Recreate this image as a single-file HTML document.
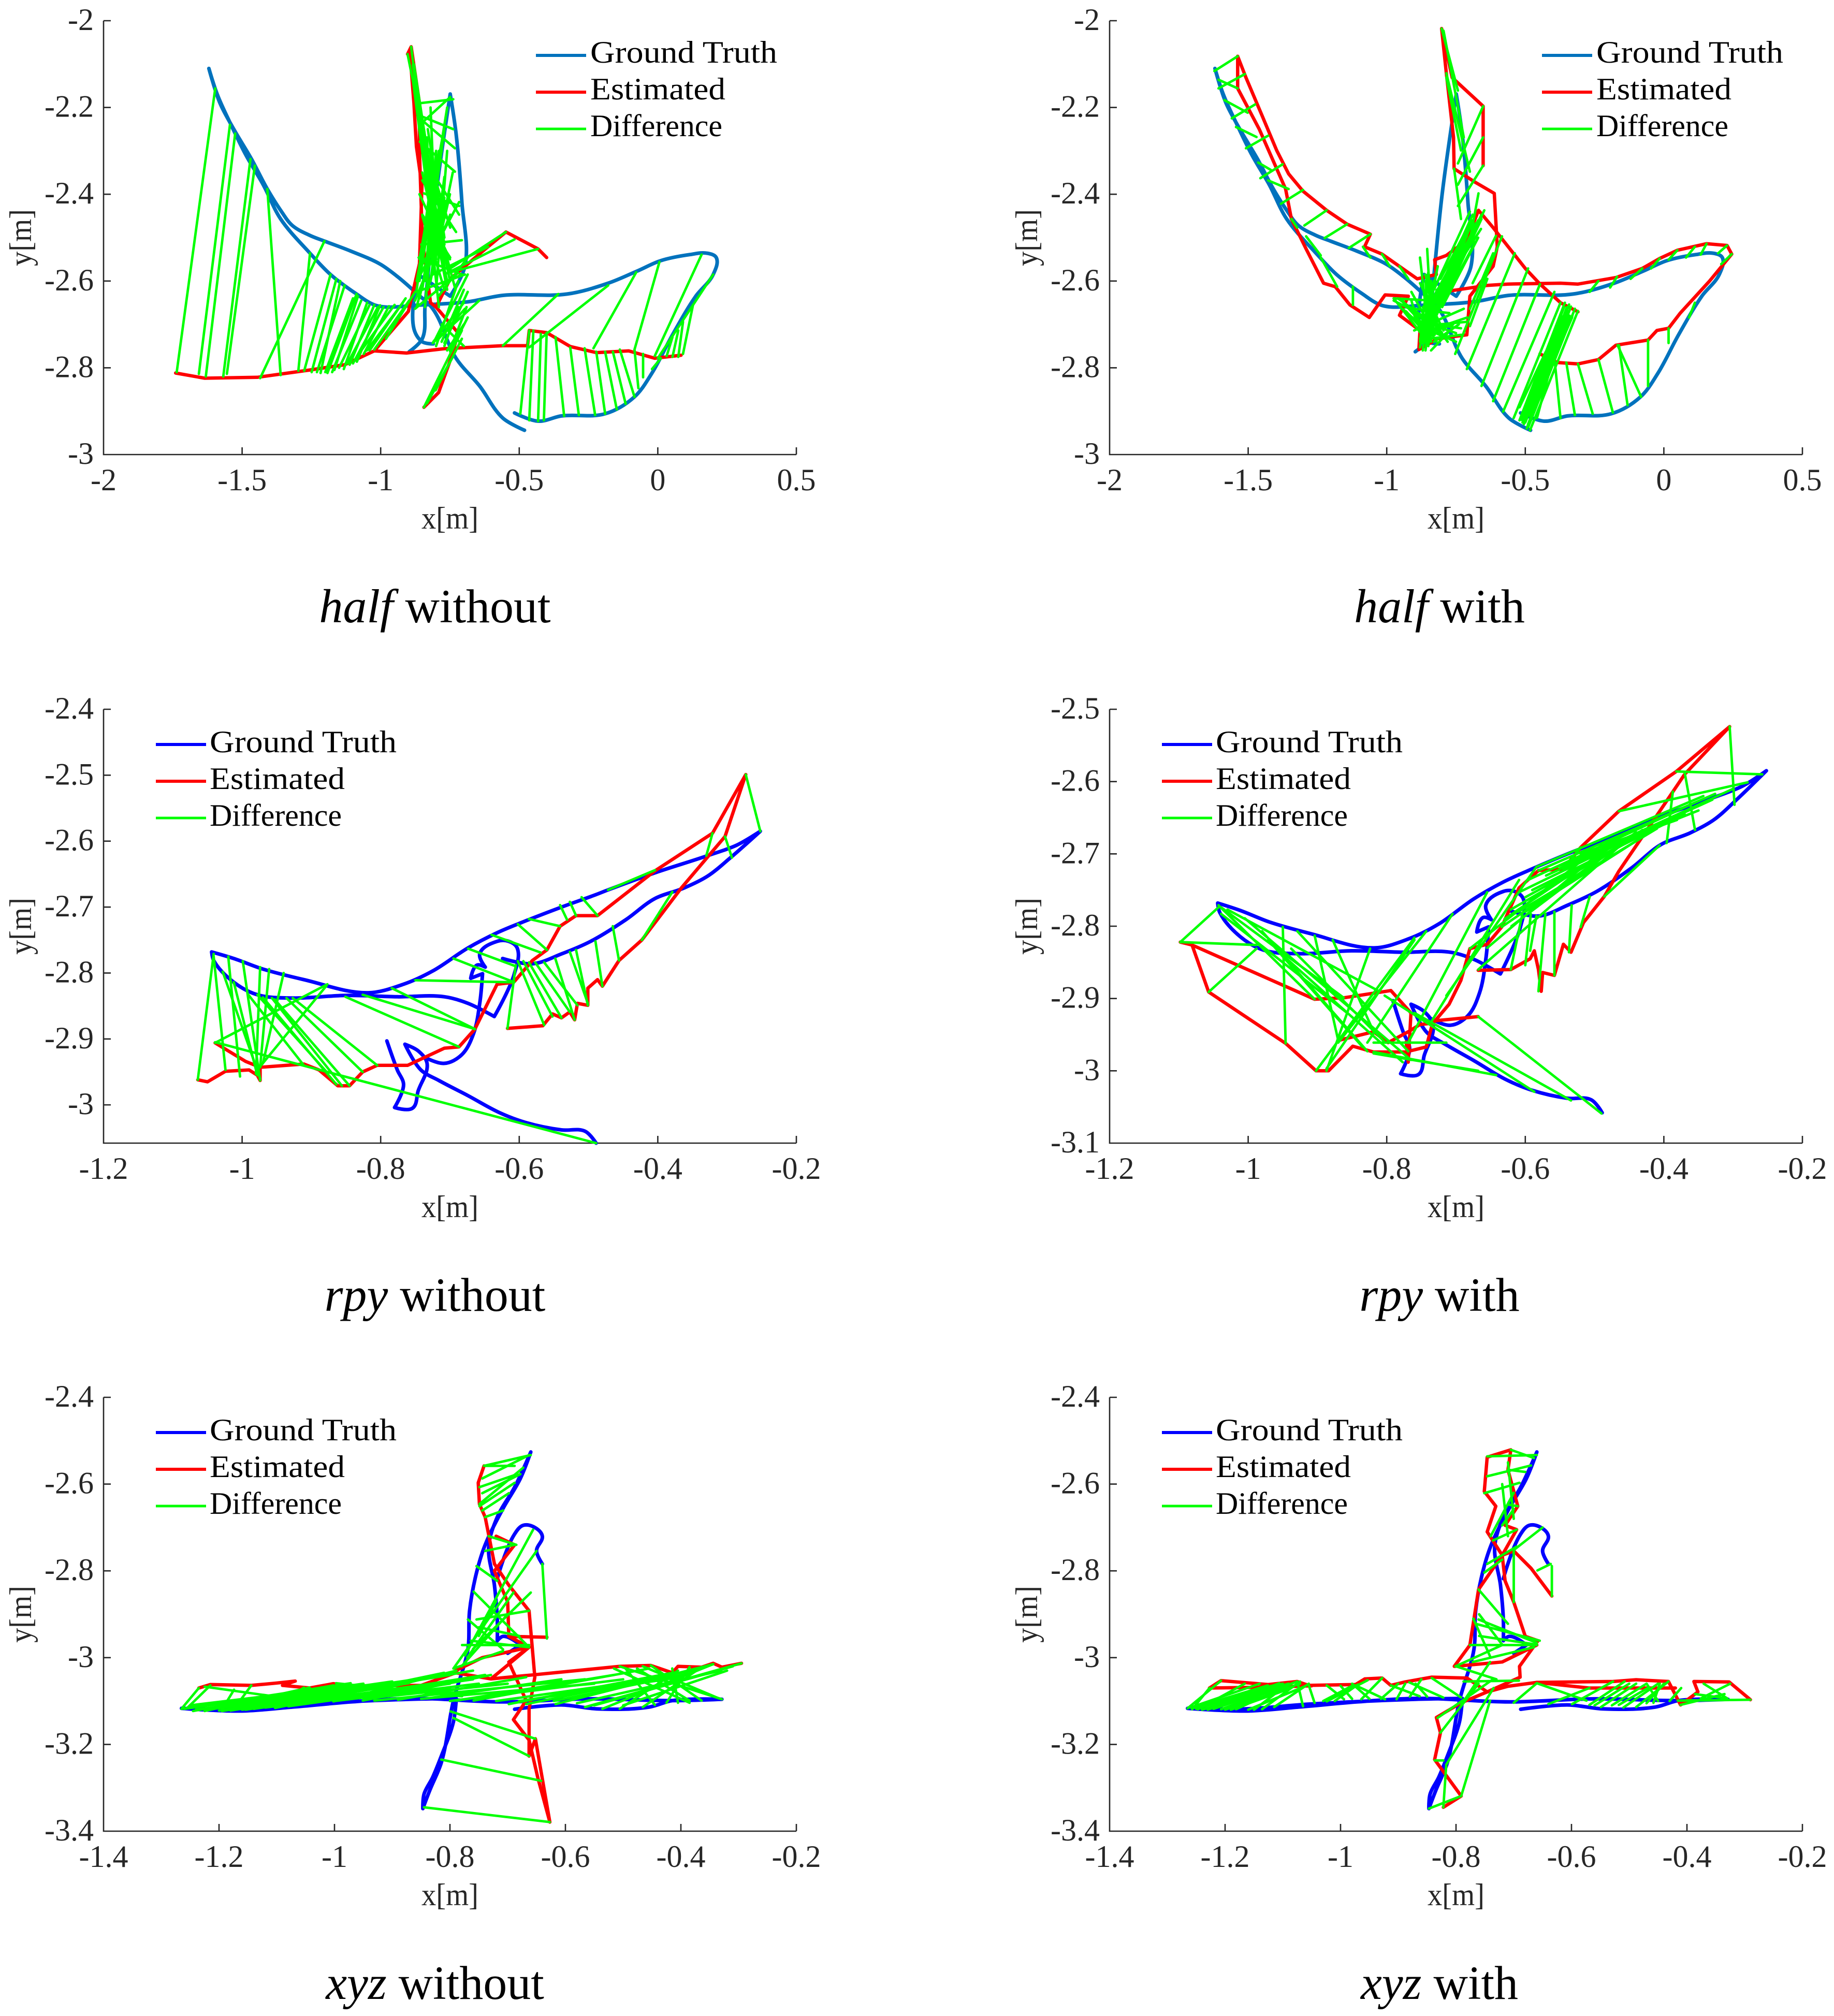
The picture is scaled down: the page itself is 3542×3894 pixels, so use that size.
<!DOCTYPE html>
<html lang="en">
<head>
<meta charset="utf-8">
<title>Trajectory comparison</title>
<style>
html,body{margin:0;padding:0;background:#fff;}
svg{display:block;}
text{font-family:"Liberation Serif","DejaVu Serif",serif;}
.tick{font-size:60px;fill:#262626;}
.axlabel{font-size:60px;fill:#262626;}
.leg{font-size:60px;fill:#000;}
.title{font-size:92px;fill:#000;text-anchor:middle;}
</style>
</head>
<body>
<svg id="figure" xmlns="http://www.w3.org/2000/svg" width="3542" height="3894" viewBox="0 0 3542 3894">
<rect x="0" y="0" width="3542" height="3894" fill="#fff"/>

<g id="p1" transform="translate(200,40)">
 <g>
  <line x1="835" x2="932" y1="67" y2="67" stroke="#0072BD" stroke-width="6"/>
  <line x1="835" x2="932" y1="138" y2="138" stroke="#FF0000" stroke-width="6"/>
  <line x1="835" x2="932" y1="209" y2="209" stroke="#00FF00" stroke-width="5"/>
  <text class="leg" x="940" y="81" textLength="361" lengthAdjust="spacingAndGlyphs">Ground Truth</text>
  <text class="leg" x="940" y="152" textLength="261" lengthAdjust="spacingAndGlyphs">Estimated</text>
  <text class="leg" x="940" y="223" textLength="255" lengthAdjust="spacingAndGlyphs">Difference</text>
 </g>
 <text class="axlabel" x="669" y="981" text-anchor="middle" textLength="110" lengthAdjust="spacingAndGlyphs">x[m]</text>
 <text class="axlabel" transform="translate(-140,419) rotate(-90)" text-anchor="middle" textLength="110" lengthAdjust="spacingAndGlyphs">y[m]</text>
 <text class="title" x="640" y="1162"><tspan font-style="italic">half</tspan> without</text>
</g>

<g id="p2" transform="translate(2143,40)">
 <g>
  <line x1="835" x2="932" y1="67" y2="67" stroke="#0072BD" stroke-width="6"/>
  <line x1="835" x2="932" y1="138" y2="138" stroke="#FF0000" stroke-width="6"/>
  <line x1="835" x2="932" y1="209" y2="209" stroke="#00FF00" stroke-width="5"/>
  <text class="leg" x="940" y="81" textLength="361" lengthAdjust="spacingAndGlyphs">Ground Truth</text>
  <text class="leg" x="940" y="152" textLength="261" lengthAdjust="spacingAndGlyphs">Estimated</text>
  <text class="leg" x="940" y="223" textLength="255" lengthAdjust="spacingAndGlyphs">Difference</text>
 </g>
 <text class="axlabel" x="669" y="981" text-anchor="middle" textLength="110" lengthAdjust="spacingAndGlyphs">x[m]</text>
 <text class="axlabel" transform="translate(-140,419) rotate(-90)" text-anchor="middle" textLength="110" lengthAdjust="spacingAndGlyphs">y[m]</text>
 <text class="title" x="637" y="1162"><tspan font-style="italic">half</tspan> with</text>
</g>

<g id="p3" transform="translate(200,1370)">
 <g>
  <line x1="101" x2="198" y1="68" y2="68" stroke="#0000FF" stroke-width="6"/>
  <line x1="101" x2="198" y1="139" y2="139" stroke="#FF0000" stroke-width="6"/>
  <line x1="101" x2="198" y1="210" y2="210" stroke="#00FF00" stroke-width="5"/>
  <text class="leg" x="205" y="83" textLength="361" lengthAdjust="spacingAndGlyphs">Ground Truth</text>
  <text class="leg" x="205" y="154" textLength="261" lengthAdjust="spacingAndGlyphs">Estimated</text>
  <text class="leg" x="205" y="225" textLength="255" lengthAdjust="spacingAndGlyphs">Difference</text>
 </g>
 <text class="axlabel" x="669" y="981" text-anchor="middle" textLength="110" lengthAdjust="spacingAndGlyphs">x[m]</text>
 <text class="axlabel" transform="translate(-140,419) rotate(-90)" text-anchor="middle" textLength="110" lengthAdjust="spacingAndGlyphs">y[m]</text>
 <text class="title" x="640" y="1162"><tspan font-style="italic">rpy</tspan> without</text>
</g>

<g id="p4" transform="translate(2143,1370)">
 <g>
  <line x1="101" x2="198" y1="68" y2="68" stroke="#0000FF" stroke-width="6"/>
  <line x1="101" x2="198" y1="139" y2="139" stroke="#FF0000" stroke-width="6"/>
  <line x1="101" x2="198" y1="210" y2="210" stroke="#00FF00" stroke-width="5"/>
  <text class="leg" x="205" y="83" textLength="361" lengthAdjust="spacingAndGlyphs">Ground Truth</text>
  <text class="leg" x="205" y="154" textLength="261" lengthAdjust="spacingAndGlyphs">Estimated</text>
  <text class="leg" x="205" y="225" textLength="255" lengthAdjust="spacingAndGlyphs">Difference</text>
 </g>
 <text class="axlabel" x="669" y="981" text-anchor="middle" textLength="110" lengthAdjust="spacingAndGlyphs">x[m]</text>
 <text class="axlabel" transform="translate(-140,419) rotate(-90)" text-anchor="middle" textLength="110" lengthAdjust="spacingAndGlyphs">y[m]</text>
 <text class="title" x="637" y="1162"><tspan font-style="italic">rpy</tspan> with</text>
</g>

<g id="p5" transform="translate(200,2699)">
 <g>
  <line x1="101" x2="198" y1="68" y2="68" stroke="#0000FF" stroke-width="6"/>
  <line x1="101" x2="198" y1="139" y2="139" stroke="#FF0000" stroke-width="6"/>
  <line x1="101" x2="198" y1="210" y2="210" stroke="#00FF00" stroke-width="5"/>
  <text class="leg" x="205" y="83" textLength="361" lengthAdjust="spacingAndGlyphs">Ground Truth</text>
  <text class="leg" x="205" y="154" textLength="261" lengthAdjust="spacingAndGlyphs">Estimated</text>
  <text class="leg" x="205" y="225" textLength="255" lengthAdjust="spacingAndGlyphs">Difference</text>
 </g>
 <text class="axlabel" x="669" y="981" text-anchor="middle" textLength="110" lengthAdjust="spacingAndGlyphs">x[m]</text>
 <text class="axlabel" transform="translate(-140,419) rotate(-90)" text-anchor="middle" textLength="110" lengthAdjust="spacingAndGlyphs">y[m]</text>
 <text class="title" x="640" y="1162"><tspan font-style="italic">xyz</tspan> without</text>
</g>

<g id="p6" transform="translate(2143,2699)">
 <g>
  <line x1="101" x2="198" y1="68" y2="68" stroke="#0000FF" stroke-width="6"/>
  <line x1="101" x2="198" y1="139" y2="139" stroke="#FF0000" stroke-width="6"/>
  <line x1="101" x2="198" y1="210" y2="210" stroke="#00FF00" stroke-width="5"/>
  <text class="leg" x="205" y="83" textLength="361" lengthAdjust="spacingAndGlyphs">Ground Truth</text>
  <text class="leg" x="205" y="154" textLength="261" lengthAdjust="spacingAndGlyphs">Estimated</text>
  <text class="leg" x="205" y="225" textLength="255" lengthAdjust="spacingAndGlyphs">Difference</text>
 </g>
 <text class="axlabel" x="669" y="981" text-anchor="middle" textLength="110" lengthAdjust="spacingAndGlyphs">x[m]</text>
 <text class="axlabel" transform="translate(-140,419) rotate(-90)" text-anchor="middle" textLength="110" lengthAdjust="spacingAndGlyphs">y[m]</text>
 <text class="title" x="637" y="1162"><tspan font-style="italic">xyz</tspan> with</text>
</g>
</svg>

<script>
// Tick values
const halfXTicks = [-2,-1.5,-1,-0.5,0,0.5];
const halfYTicks = [-2,-2.2,-2.4,-2.6,-2.8,-3];
const rpyXTicks = [-1.2,-1,-0.8,-0.6,-0.4,-0.2];
const rpyWithoutYTicks = [-2.4,-2.5,-2.6,-2.7,-2.8,-2.9,-3];
const rpyWithYTicks = [-2.5,-2.6,-2.7,-2.8,-2.9,-3,-3.1];
const xyzXTicks = [-1.4,-1.2,-1,-0.8,-0.6,-0.4,-0.2];
const xyzYTicks = [-2.4,-2.6,-2.8,-3,-3.2,-3.4];

// Axis limits
const halfXLim = [-2,0.5];
const halfYLim = [-3,-2];
const rpyXLim = [-1.2,-0.2];
const rpyWithoutYLim = [-3.058,-2.4];
const rpyWithYLim = [-3.1,-2.5];
const xyzXLim = [-1.4,-0.2];
const xyzYLim = [-3.4,-2.4];

// Ground truth paths: each inner array is x,y,x,y...
const halfGt = [
[-0.517,-2.904,-0.432,-2.923,-0.348,-2.911,-0.19,-2.906,-0.084,-2.867,-0.021,-2.812,0.053,-2.724,0.137,-2.635,0.2,-2.585,0.211,-2.546,0.179,-2.536,0.116,-2.539,0.011,-2.553,-0.074,-2.577,-0.179,-2.605,-0.327,-2.63,-0.559,-2.633,-0.686,-2.648,-0.876,-2.656,-0.981,-2.66,-1.023,-2.655,-1.087,-2.63,-1.181,-2.585,-1.255,-2.536,-1.361,-2.457,-1.424,-2.378,-1.487,-2.309,-1.54,-2.24,-1.589,-2.171,-1.62,-2.11,-1.58,-2.19,-1.53,-2.25,-1.466,-2.319,-1.409,-2.388,-1.361,-2.437,-1.319,-2.472,-1.255,-2.495,-1.203,-2.508,-1.108,-2.531,-1.002,-2.561,-0.939,-2.59,-0.876,-2.625,-0.812,-2.664,-0.728,-2.778,-0.643,-2.842,-0.559,-2.916,-0.481,-2.944],
[-0.897,-2.763,-0.85,-2.733,-0.84,-2.66,-0.8,-2.4,-0.749,-2.169,-0.728,-2.26,-0.707,-2.418,-0.696,-2.566,-0.749,-2.635,-0.865,-2.585,-0.88,-2.71,-0.85,-2.74,-0.81,-2.745]
];
const rpyGt = [
[-0.489,-3.058,-0.505,-3.04,-0.539,-3.038,-0.59,-3.027,-0.628,-3.012,-0.674,-2.986,-0.716,-2.963,-0.742,-2.947,-0.765,-2.908,-0.746,-2.918,-0.733,-2.937,-0.746,-2.979,-0.754,-3.005,-0.78,-3.004,-0.767,-2.969,-0.776,-2.947,-0.791,-2.903],
[-0.738,-2.927,-0.708,-2.937,-0.683,-2.924,-0.666,-2.892,-0.657,-2.846,-0.653,-2.801,-0.67,-2.808,-0.661,-2.788,-0.649,-2.791,-0.657,-2.771,-0.632,-2.752,-0.615,-2.752,-0.603,-2.762,-0.607,-2.801,-0.636,-2.866,-0.674,-2.846,-0.708,-2.836,-0.776,-2.836,-0.851,-2.834,-0.927,-2.838,-0.978,-2.833,-1.012,-2.814,-1.041,-2.781,-1.044,-2.768,-1.012,-2.778,-0.97,-2.794,-0.911,-2.81,-0.818,-2.83,-0.767,-2.817,-0.725,-2.797,-0.674,-2.762,-0.632,-2.739,-0.598,-2.724,-0.539,-2.7,-0.489,-2.681,-0.472,-2.674,-0.404,-2.648,-0.328,-2.622,-0.286,-2.606,-0.252,-2.585,-0.295,-2.625,-0.328,-2.653,-0.362,-2.671,-0.404,-2.687,-0.446,-2.719,-0.497,-2.752,-0.539,-2.771,-0.581,-2.786,-0.624,-2.778]
];
const xyzGt = [
[-0.688,-3.119,-0.607,-3.109,-0.546,-3.118,-0.455,-3.114,-0.415,-3.099,-0.329,-3.096,-0.415,-3.099,-0.56,-3.095,-0.708,-3.102,-0.87,-3.094,-0.972,-3.102,-1.073,-3.114,-1.164,-3.123,-1.265,-3.117,-1.164,-3.118,-1.053,-3.107,-0.87,-3.096,-0.789,-3.094,-0.794,-3.148,-0.815,-3.227,-0.83,-3.276,-0.845,-3.315,-0.847,-3.348,-0.835,-3.306,-0.815,-3.242,-0.794,-3.099,-0.769,-2.981,-0.766,-2.892,-0.754,-2.804,-0.739,-2.74,-0.708,-2.656,-0.678,-2.587,-0.66,-2.526,-0.688,-2.607,-0.718,-2.676,-0.733,-2.745,-0.723,-2.833,-0.718,-2.912,-0.718,-2.961,-0.708,-2.951,-0.678,-2.971,-0.7,-2.99],
[-0.718,-2.818,-0.688,-2.715,-0.673,-2.695,-0.653,-2.7,-0.64,-2.72,-0.65,-2.754,-0.64,-2.784]
];

// Estimated paths
const halfEstWithout = [
[-0.401,-2.546,-0.432,-2.526,-0.548,-2.487,-0.622,-2.526,-0.749,-2.595,-0.8,-2.66,-0.72,-2.72,-0.749,-2.783,-0.791,-2.857,-0.844,-2.891],
[0.084,-2.771,-0.011,-2.778,-0.105,-2.761,-0.222,-2.765,-0.316,-2.751,-0.401,-2.719,-0.464,-2.714,-0.47,-2.749,-0.559,-2.749,-0.77,-2.756,-0.907,-2.766,-1.023,-2.761,-1.13,-2.793,-1.255,-2.805,-1.445,-2.822,-1.635,-2.824,-1.74,-2.812],
[-1.023,-2.761,-0.9,-2.67,-0.86,-2.56,-0.851,-2.38,-0.871,-2.29,-0.88,-2.19,-0.895,-2.07,-0.903,-2.077,-0.89,-2.06,-0.86,-2.19,-0.86,-2.3,-0.85,-2.5,-0.82,-2.65,-0.8,-2.66]
];
const halfEstWith = [
[-1.538,-2.082,-1.508,-2.131,-1.449,-2.22,-1.397,-2.299,-1.354,-2.353,-1.302,-2.393,-1.217,-2.437,-1.143,-2.469,-1.059,-2.492,-1.08,-2.521,-1.017,-2.538,-0.89,-2.595,-0.821,-2.585,-0.827,-2.551,-0.785,-2.541,-0.711,-2.506,-0.669,-2.437,-0.616,-2.477,-0.5,-2.571,-0.447,-2.607,-0.373,-2.65,-0.31,-2.671],
[-1.538,-2.082,-1.538,-2.156,-1.46,-2.25,-1.365,-2.388,-1.344,-2.457,-1.291,-2.526,-1.228,-2.605,-1.186,-2.613,-1.133,-2.655,-1.063,-2.684,-1.006,-2.632,-0.922,-2.635,-0.954,-2.679,-0.88,-2.714,-0.884,-2.758,-0.816,-2.733,-0.711,-2.724,-0.7,-2.635,-0.616,-2.566,-0.601,-2.521,-0.612,-2.398,-0.679,-2.373,-0.757,-2.341,-0.759,-2.269,-0.785,-2.121,-0.802,-2.018,-0.764,-2.131,-0.652,-2.197,-0.652,-2.334],
[-0.795,-2.625,-0.637,-2.61,-0.563,-2.607,-0.373,-2.605,-0.31,-2.607,-0.173,-2.592,-0.078,-2.571,-0.015,-2.548,0.049,-2.529,0.154,-2.514,0.228,-2.518,0.245,-2.538,0.165,-2.6,0.059,-2.674,0.017,-2.709,-0.025,-2.714,-0.057,-2.736,-0.173,-2.748,-0.236,-2.781,-0.31,-2.791,-0.384,-2.788,-0.447,-2.768]
];
const rpyEstWithout = [
[-1.039,-2.906,-0.995,-2.934,-0.974,-2.943,-0.911,-2.938,-0.889,-2.947,-0.862,-2.971,-0.845,-2.971,-0.826,-2.95,-0.805,-2.94,-0.761,-2.94,-0.708,-2.914,-0.687,-2.912,-0.664,-2.885,-0.632,-2.817,-0.608,-2.814,-0.581,-2.781,-0.56,-2.765,-0.541,-2.729,-0.518,-2.713,-0.487,-2.713,-0.404,-2.645,-0.321,-2.588,-0.273,-2.499,-0.303,-2.593,-0.366,-2.671,-0.423,-2.75,-0.456,-2.781,-0.48,-2.82,-0.487,-2.81,-0.501,-2.823,-0.501,-2.849,-0.516,-2.846,-0.52,-2.871,-0.527,-2.859,-0.539,-2.868,-0.552,-2.862,-0.566,-2.88,-0.617,-2.884],
[-1.064,-2.962,-1.05,-2.965,-1.024,-2.949,-0.99,-2.947,-0.978,-2.955,-0.974,-2.963,-0.974,-2.943]
];
const rpyEstWith = [
[-1.098,-2.822,-1.081,-2.826,-1.057,-2.891,-0.946,-2.962,-0.902,-3,-0.884,-3,-0.849,-2.966,-0.819,-2.974,-0.773,-2.974,-0.743,-2.967,-0.733,-2.931,-0.668,-2.925],
[-1.081,-2.826,-0.904,-2.901,-0.862,-2.899,-0.794,-2.889,-0.765,-2.92,-0.769,-2.988,-0.772,-2.96],
[-0.87,-2.958,-0.819,-2.946,-0.798,-2.961,-0.769,-2.946,-0.752,-2.936,-0.733,-2.934,-0.71,-2.908,-0.693,-2.875,-0.68,-2.831,-0.655,-2.825,-0.634,-2.801,-0.609,-2.747,-0.581,-2.723,-0.545,-2.721,-0.52,-2.691,-0.465,-2.641,-0.382,-2.586,-0.305,-2.524,-0.37,-2.59,-0.406,-2.641,-0.465,-2.724,-0.486,-2.759,-0.516,-2.795,-0.534,-2.836,-0.545,-2.825,-0.558,-2.868,-0.575,-2.864,-0.577,-2.89,-0.581,-2.86,-0.587,-2.834,-0.593,-2.845,-0.621,-2.86,-0.668,-2.861]
];
const xyzEstWithout = [
[-1.235,-3.07,-1.215,-3.062,-1.144,-3.064,-1.103,-3.059,-1.068,-3.054,-1.09,-3.064,-1.043,-3.07,-1.002,-3.06,-0.97,-3.065,-0.85,-3.064,-0.79,-3.035,-0.729,-3.049,-0.658,-3.04,-0.506,-3.02,-0.452,-3.018,-0.415,-3.035,-0.405,-3.02,-0.364,-3.022,-0.344,-3.013,-0.329,-3.022,-0.295,-3.013],
[-0.627,-3.379,-0.652,-3.187,-0.663,-3.227,-0.663,-3.119,-0.653,-3.045,-0.663,-2.892,-0.698,-2.833,-0.723,-2.784,-0.739,-2.676,-0.749,-2.646,-0.751,-2.597,-0.741,-2.558],
[-0.627,-3.379,-0.648,-3.276,-0.663,-3.19,-0.69,-3.143,-0.668,-3.099,-0.698,-3.01,-0.663,-2.976,-0.698,-2.951,-0.632,-2.953,-0.698,-2.951,-0.7,-2.872,-0.723,-2.8,-0.688,-2.74,-0.72,-2.72],
[-0.729,-3.049,-0.698,-3.015,-0.663,-2.976,-0.744,-3.0,-0.79,-3.03]
];
const xyzEstWith = [
[-1.227,-3.07,-1.207,-3.053,-1.126,-3.062,-1.075,-3.055,-1.055,-3.064,-0.974,-3.062,-0.958,-3.049,-0.928,-3.047,-0.913,-3.064,-0.888,-3.056,-0.842,-3.045,-0.781,-3.047,-0.746,-3.079,-0.71,-3.066,-0.66,-3.057,-0.528,-3.055,-0.488,-3.051,-0.432,-3.055,-0.411,-3.109,-0.381,-3.079,-0.388,-3.055,-0.327,-3.056,-0.29,-3.097],
[-1.227,-3.07,-1.126,-3.068,-1.05,-3.065],
[-0.66,-3.057,-0.57,-3.07,-0.48,-3.07,-0.42,-3.07],
[-0.822,-3.345,-0.791,-3.319,-0.837,-3.235,-0.827,-3.173,-0.834,-3.138,-0.791,-3.104,-0.746,-3.079,-0.689,-3.045,-0.69,-3.02,-0.658,-2.961,-0.68,-2.951,-0.7,-2.872,-0.715,-2.823,-0.72,-2.764,-0.695,-2.705,-0.715,-2.695,-0.693,-2.651,-0.71,-2.567,-0.705,-2.521,-0.746,-2.538,-0.751,-2.617,-0.731,-2.651,-0.746,-2.71,-0.72,-2.764,-0.761,-2.843,-0.776,-2.971,-0.803,-3.02,-0.72,-3.01,-0.66,-2.971],
[-0.634,-2.858,-0.67,-2.794,-0.7,-2.754,-0.72,-2.764]
];

// Difference segments: ground-truth x,y then estimated x,y
const halfDiffWithout = [
[-1.597,-2.156,-1.736,-2.81],[-1.544,-2.24,-1.656,-2.814],[-1.525,-2.26,-1.631,-2.82],[-1.47,-2.319,-1.568,-2.82],[-1.454,-2.334,-1.555,-2.814],[-1.409,-2.388,-1.361,-2.817],[-1.203,-2.508,-1.435,-2.824],[-1.255,-2.536,-1.297,-2.807],[-1.181,-2.585,-1.276,-2.807],[-1.16,-2.595,-1.249,-2.81],[-1.146,-2.6,-1.217,-2.812],[-1.087,-2.63,-1.192,-2.812],[-1.082,-2.635,-1.167,-2.805],[-1.049,-2.65,-1.133,-2.803],[-1.023,-2.655,-1.112,-2.793],[-1.002,-2.656,-1.086,-2.786],[-0.97,-2.658,-1.061,-2.768],[-0.897,-2.645,-1.023,-2.758],[-0.876,-2.625,-0.981,-2.733],
[-1.13,-2.61,-1.23,-2.81],[-1.1,-2.64,-1.2,-2.81],[-1.07,-2.645,-1.175,-2.81],[-1.04,-2.655,-1.15,-2.8],[-1.01,-2.66,-1.12,-2.79],[-0.99,-2.66,-1.1,-2.79],[-0.95,-2.655,-1.07,-2.76],[-0.92,-2.65,-1.05,-2.76],[-0.91,-2.64,-1.04,-2.76],
[-0.359,-2.63,-0.559,-2.749],[-0.179,-2.61,-0.464,-2.753],[-0.078,-2.58,-0.232,-2.755],[0.006,-2.556,-0.084,-2.758],[0.158,-2.539,-0.011,-2.773],[0.2,-2.585,0,-2.778],
[-0.496,-2.906,-0.464,-2.714],[-0.464,-2.921,-0.449,-2.714],[-0.432,-2.923,-0.422,-2.722],[-0.411,-2.921,-0.401,-2.719],[-0.338,-2.911,-0.369,-2.729],[-0.285,-2.909,-0.316,-2.753],[-0.226,-2.909,-0.264,-2.755],[-0.19,-2.906,-0.222,-2.763],[-0.148,-2.896,-0.19,-2.763],[-0.116,-2.883,-0.162,-2.763],[-0.084,-2.867,-0.137,-2.758],[-0.07,-2.847,-0.084,-2.758],[-0.053,-2.822,-0.053,-2.768],[-0.021,-2.803,0.011,-2.778],[0.053,-2.729,0.032,-2.773],[0.074,-2.714,0.053,-2.775],[0.091,-2.694,0.074,-2.775],[0.127,-2.655,0.091,-2.768],
[-0.854,-2.25,-0.89,-2.06],[-0.833,-2.299,-0.903,-2.077],[-0.823,-2.348,-0.884,-2.102],[-0.802,-2.398,-0.88,-2.151],[-0.738,-2.181,-0.871,-2.191],[-0.749,-2.176,-0.859,-2.24],[-0.738,-2.25,-0.854,-2.22],[-0.732,-2.294,-0.85,-2.23],[-0.732,-2.348,-0.859,-2.279],[-0.717,-2.447,-0.844,-2.319],[-0.728,-2.487,-0.85,-2.368],[-0.717,-2.427,-0.844,-2.398],[-0.749,-2.546,-0.85,-2.447],[-0.707,-2.506,-0.854,-2.516],[-0.77,-2.566,-0.844,-2.25],[-0.812,-2.585,-0.833,-2.269],[-0.791,-2.546,-0.838,-2.329],[-0.77,-2.516,-0.823,-2.299],[-0.749,-2.477,-0.812,-2.348],[-0.707,-2.585,-0.863,-2.546],[-0.696,-2.585,-0.871,-2.625],[-0.728,-2.585,-0.876,-2.664],[-0.717,-2.418,-0.865,-2.595],[-0.749,-2.447,-0.876,-2.645],[-0.76,-2.467,-0.854,-2.566],[-0.77,-2.408,-0.833,-2.546],[-0.686,-2.585,-0.802,-2.733],[-0.686,-2.625,-0.77,-2.743],[-0.644,-2.645,-0.812,-2.743],[-0.686,-2.684,-0.749,-2.763],[-0.696,-2.664,-0.791,-2.733],[-0.707,-2.714,-0.844,-2.891],[-0.738,-2.773,-0.833,-2.882],[-0.707,-2.733,-0.802,-2.852],[-0.749,-2.571,-0.548,-2.487],[-0.77,-2.585,-0.517,-2.504],[-0.749,-2.58,-0.432,-2.526],[-0.812,-2.585,-0.612,-2.521],[-0.791,-2.635,-0.686,-2.546],[-0.77,-2.605,-0.707,-2.585],
[-0.76,-2.2,-0.86,-2.6],[-0.77,-2.25,-0.85,-2.62],[-0.78,-2.28,-0.87,-2.6],[-0.79,-2.3,-0.86,-2.55],[-0.8,-2.3,-0.84,-2.6],[-0.81,-2.33,-0.87,-2.62],[-0.82,-2.2,-0.8,-2.5],[-0.84,-2.3,-0.78,-2.55],[-0.85,-2.35,-0.76,-2.6],[-0.83,-2.25,-0.77,-2.5],[-0.86,-2.4,-0.75,-2.55],[-0.85,-2.45,-0.77,-2.62],[-0.84,-2.5,-0.78,-2.3],[-0.82,-2.6,-0.74,-2.35],[-0.8,-2.62,-0.76,-2.3],[-0.83,-2.62,-0.75,-2.4],[-0.86,-2.64,-0.78,-2.4],[-0.87,-2.66,-0.79,-2.45],[-0.84,-2.66,-0.8,-2.38],[-0.81,-2.56,-0.77,-2.42],[-0.88,-2.1,-0.82,-2.35],[-0.885,-2.13,-0.83,-2.4],[-0.87,-2.18,-0.81,-2.44],[-0.86,-2.22,-0.79,-2.5],[-0.85,-2.26,-0.8,-2.55],[-0.82,-2.42,-0.76,-2.62],[-0.8,-2.44,-0.75,-2.6],[-0.78,-2.5,-0.73,-2.62],[-0.82,-2.48,-0.79,-2.66],[-0.77,-2.36,-0.82,-2.6],
[-0.72,-2.6,-0.8,-2.75],[-0.7,-2.62,-0.78,-2.74],[-0.72,-2.66,-0.77,-2.75],[-0.7,-2.7,-0.76,-2.76],[-0.69,-2.66,-0.75,-2.76],[-0.7,-2.65,-0.81,-2.74],[-0.7,-2.75,-0.78,-2.7]
];
const halfDiffWith = [
[-1.622,-2.116,-1.538,-2.082],[-1.607,-2.156,-1.512,-2.123],[-1.607,-2.136,-1.538,-2.156],[-1.586,-2.183,-1.502,-2.212],[-1.559,-2.225,-1.475,-2.193],[-1.544,-2.245,-1.47,-2.268],[-1.508,-2.294,-1.428,-2.265],[-1.464,-2.327,-1.418,-2.344],[-1.456,-2.363,-1.376,-2.331],[-1.428,-2.368,-1.354,-2.388],[-1.382,-2.422,-1.302,-2.39],[-1.297,-2.472,-1.217,-2.437],[-1.224,-2.501,-1.143,-2.469],[-1.137,-2.524,-1.059,-2.492],[-1.059,-2.546,-1.086,-2.521],[-0.989,-2.566,-1.017,-2.538],[-0.922,-2.595,-0.954,-2.566],[-1.323,-2.477,-1.344,-2.457],[-1.238,-2.541,-1.291,-2.497],[-1.179,-2.613,-1.238,-2.546],[-1.122,-2.613,-1.122,-2.655],
[-0.268,-2.625,-0.236,-2.6],[-0.194,-2.615,-0.169,-2.59],[-0.12,-2.595,-0.078,-2.571],[-0.046,-2.571,-0.015,-2.548],[0.017,-2.551,0.049,-2.529],[0.08,-2.546,0.112,-2.521],[0.133,-2.539,0.154,-2.514],[0.196,-2.536,0.228,-2.518],[0.207,-2.561,0.245,-2.538],[0.091,-2.684,0.112,-2.65],[0.017,-2.743,0.017,-2.709],[-0.057,-2.842,-0.057,-2.736],[-0.082,-2.867,-0.167,-2.748],[-0.131,-2.886,-0.162,-2.748],[-0.184,-2.903,-0.236,-2.781],[-0.257,-2.906,-0.31,-2.791],[-0.321,-2.909,-0.352,-2.788],[-0.373,-2.916,-0.394,-2.783],
[-0.483,-2.944,-0.31,-2.669],[-0.489,-2.936,-0.321,-2.664],[-0.5,-2.926,-0.335,-2.659],[-0.51,-2.926,-0.342,-2.654],[-0.521,-2.921,-0.357,-2.65],[-0.542,-2.916,-0.373,-2.65],[-0.458,-2.916,-0.352,-2.664],[-0.479,-2.901,-0.331,-2.684],[-0.5,-2.896,-0.363,-2.704],[-0.521,-2.891,-0.426,-2.763],[-0.58,-2.901,-0.395,-2.625],[-0.616,-2.877,-0.447,-2.607],[-0.658,-2.842,-0.49,-2.571],[-0.711,-2.803,-0.538,-2.536],[-0.753,-2.768,-0.584,-2.497],
[-0.49,-2.93,-0.33,-2.68],[-0.495,-2.94,-0.345,-2.67],[-0.505,-2.93,-0.35,-2.66],[-0.515,-2.92,-0.36,-2.66],[-0.48,-2.92,-0.34,-2.68],[-0.47,-2.9,-0.35,-2.7],[-0.485,-2.91,-0.36,-2.69],[-0.495,-2.9,-0.37,-2.68],[-0.46,-2.88,-0.38,-2.72],
[-0.816,-2.664,-0.658,-2.447],[-0.827,-2.684,-0.679,-2.467],[-0.838,-2.704,-0.7,-2.477],[-0.848,-2.714,-0.711,-2.487],[-0.859,-2.724,-0.722,-2.506],[-0.869,-2.704,-0.69,-2.447],[-0.88,-2.733,-0.743,-2.526],[-0.795,-2.645,-0.658,-2.457],[-0.785,-2.625,-0.648,-2.437],[-0.838,-2.645,-0.711,-2.497],[-0.806,-2.595,-0.7,-2.467],
[-0.82,-2.65,-0.67,-2.46],[-0.83,-2.67,-0.68,-2.48],[-0.84,-2.69,-0.69,-2.46],[-0.85,-2.7,-0.7,-2.5],[-0.81,-2.63,-0.66,-2.48],[-0.8,-2.66,-0.67,-2.5],[-0.79,-2.64,-0.68,-2.51],[-0.86,-2.68,-0.72,-2.52],[-0.87,-2.72,-0.71,-2.52],[-0.86,-2.74,-0.73,-2.54],[-0.83,-2.62,-0.7,-2.44],
[-0.838,-2.645,-0.975,-2.64],[-0.827,-2.694,-0.975,-2.645],[-0.838,-2.724,-0.943,-2.664],[-0.871,-2.733,-0.911,-2.645],[-0.88,-2.753,-0.838,-2.605],[-0.838,-2.704,-0.854,-2.526],[-0.848,-2.724,-0.88,-2.546],[-0.869,-2.743,-0.816,-2.566],[-0.848,-2.714,-0.709,-2.684],[-0.848,-2.733,-0.732,-2.724],[-0.88,-2.704,-0.711,-2.694],[-0.89,-2.694,-0.732,-2.709],[-0.901,-2.714,-0.722,-2.664],[-0.901,-2.664,-0.774,-2.674],[-0.88,-2.605,-0.795,-2.714],[-0.911,-2.625,-0.827,-2.724],[-0.861,-2.585,-0.816,-2.704],[-0.943,-2.645,-0.838,-2.724],[-0.975,-2.64,-0.861,-2.733],
[-0.87,-2.76,-0.84,-2.6],[-0.86,-2.76,-0.83,-2.6],[-0.85,-2.75,-0.82,-2.62],[-0.88,-2.74,-0.85,-2.58],[-0.84,-2.74,-0.86,-2.6],[-0.85,-2.7,-0.92,-2.66],[-0.86,-2.72,-0.93,-2.67],[-0.84,-2.72,-0.94,-2.65],[-0.83,-2.7,-0.96,-2.64],[-0.85,-2.74,-0.9,-2.68],[-0.84,-2.7,-0.75,-2.72],[-0.85,-2.72,-0.76,-2.7],[-0.86,-2.71,-0.75,-2.74],[-0.83,-2.74,-0.74,-2.7],[-0.84,-2.76,-0.78,-2.72],[-0.85,-2.68,-0.78,-2.74],[-0.82,-2.7,-0.85,-2.62],[-0.81,-2.72,-0.88,-2.68],[-0.87,-2.66,-0.8,-2.72],[-0.88,-2.68,-0.82,-2.74],
[-0.743,-2.161,-0.802,-2.018],[-0.722,-2.269,-0.795,-2.023],[-0.7,-2.348,-0.785,-2.121],[-0.732,-2.299,-0.785,-2.131],[-0.743,-2.329,-0.652,-2.197],[-0.743,-2.378,-0.652,-2.269],[-0.743,-2.427,-0.652,-2.334],[-0.732,-2.457,-0.757,-2.341],[-0.7,-2.506,-0.669,-2.398],[-0.69,-2.605,-0.606,-2.496],[-0.7,-2.664,-0.616,-2.536],[-0.7,-2.704,-0.637,-2.595]
];
const rpyDiffWithout = [
[-1.041,-2.771,-1.064,-2.962],[-1.041,-2.775,-1.024,-2.947],[-1.02,-2.775,-1.003,-2.957],[-0.999,-2.782,-0.974,-2.963],[-0.974,-2.791,-0.98,-2.953],[-0.961,-2.794,-0.974,-2.943],[-0.94,-2.8,-0.97,-2.937],[-1.028,-2.798,-0.974,-2.96],[-1.012,-2.814,-0.978,-2.955],[-0.877,-2.817,-1.039,-2.906],[-0.878,-2.819,-0.978,-2.947],[-0.991,-2.833,-0.911,-2.94],[-0.978,-2.833,-0.878,-2.95],[-0.97,-2.837,-0.864,-2.969],[-0.957,-2.838,-0.856,-2.971],[-0.953,-2.84,-0.845,-2.971],[-0.936,-2.838,-0.826,-2.95],[-0.927,-2.838,-0.805,-2.94],[-0.851,-2.836,-0.687,-2.912],[-0.784,-2.823,-0.664,-2.885],[-0.75,-2.811,-0.608,-2.814],[-0.826,-2.833,-0.664,-2.885],[-0.695,-2.778,-0.607,-2.814],
[-0.674,-2.763,-0.607,-2.789],[-0.64,-2.742,-0.569,-2.769],[-0.602,-2.726,-0.56,-2.765],[-0.586,-2.718,-0.541,-2.729],[-0.541,-2.697,-0.531,-2.719],[-0.527,-2.692,-0.518,-2.713],[-0.51,-2.685,-0.487,-2.713],[-0.472,-2.674,-0.404,-2.644],[-0.33,-2.622,-0.321,-2.588],[-0.252,-2.585,-0.273,-2.499],[-0.293,-2.625,-0.303,-2.593],[-0.379,-2.677,-0.423,-2.75],[-0.465,-2.729,-0.456,-2.781],[-0.49,-2.752,-0.48,-2.82],
[-0.518,-2.765,-0.501,-2.849],[-0.527,-2.768,-0.501,-2.846],[-0.548,-2.778,-0.52,-2.871],[-0.564,-2.784,-0.516,-2.849],[-0.577,-2.784,-0.527,-2.859],[-0.586,-2.784,-0.539,-2.868],[-0.594,-2.782,-0.552,-2.866],[-0.602,-2.782,-0.564,-2.879],[-0.605,-2.788,-0.617,-2.884],[-0.489,-3.058,-1.039,-2.905]
];
const rpyDiffWith = [
[-1.043,-2.774,-1.098,-2.822],[-0.988,-2.826,-1.098,-2.822],[-0.988,-2.831,-1.057,-2.891],[-0.95,-2.801,-0.946,-2.962],[-1.043,-2.771,-0.904,-2.901],[-1.039,-2.774,-0.862,-2.899],[-1.03,-2.777,-0.811,-2.89],[-1.039,-2.783,-0.857,-2.92],[-1.005,-2.789,-0.765,-2.985],[-0.98,-2.807,-0.828,-2.973],[-0.955,-2.836,-0.777,-2.988],[-0.904,-2.813,-0.87,-2.958],[-0.878,-2.819,-0.819,-2.946],[-0.929,-2.807,-0.769,-2.973],[-0.938,-2.831,-0.802,-2.961],[-0.971,-2.819,-0.835,-2.967],[-0.824,-2.831,-0.887,-3],[-0.76,-2.816,-0.902,-3],[-0.76,-2.819,-0.887,-2.997],[-0.743,-2.807,-0.87,-2.961],[-0.705,-2.783,-0.828,-2.961],[-0.655,-2.753,-0.769,-2.961],[-0.819,-2.961,-0.714,-2.961],[-0.819,-2.976,-0.668,-3],[-0.49,-3.059,-0.668,-2.925],[-0.534,-3.041,-0.76,-2.92],[-0.587,-3.029,-0.803,-2.896],[-0.642,-3.006,-0.819,-2.974],
[-0.279,-2.601,-0.465,-2.641],[-0.258,-2.59,-0.382,-2.586],[-0.298,-2.632,-0.305,-2.524],[-0.355,-2.667,-0.37,-2.587],[-0.396,-2.685,-0.387,-2.614],[-0.343,-2.62,-0.584,-2.718],[-0.355,-2.629,-0.596,-2.736],[-0.381,-2.647,-0.609,-2.753],[-0.406,-2.658,-0.621,-2.777],[-0.431,-2.667,-0.634,-2.801],[-0.448,-2.676,-0.668,-2.86],[-0.469,-2.679,-0.655,-2.83],[-0.49,-2.688,-0.68,-2.831],[-0.52,-2.691,-0.545,-2.721],[-0.355,-2.635,-0.545,-2.721],[-0.381,-2.653,-0.52,-2.7],[-0.326,-2.617,-0.581,-2.723],[-0.584,-2.718,-0.714,-2.896],[-0.609,-2.736,-0.735,-2.931],
[-0.33,-2.625,-0.57,-2.73],[-0.35,-2.64,-0.56,-2.72],[-0.37,-2.645,-0.59,-2.75],[-0.39,-2.65,-0.6,-2.76],[-0.41,-2.665,-0.61,-2.78],[-0.42,-2.67,-0.6,-2.78],[-0.44,-2.67,-0.62,-2.8],[-0.46,-2.68,-0.63,-2.79],[-0.3,-2.61,-0.55,-2.72],
[-0.406,-2.688,-0.486,-2.759],[-0.507,-2.759,-0.52,-2.801],[-0.533,-2.771,-0.537,-2.836],[-0.558,-2.78,-0.558,-2.868],[-0.571,-2.783,-0.581,-2.89],[-0.584,-2.786,-0.593,-2.834],[-0.592,-2.783,-0.6,-2.854],[-0.604,-2.782,-0.621,-2.86]
];
const xyzDiffWithout = [
[-0.66,-2.533,-0.741,-2.558],[-0.663,-2.533,-0.744,-2.587],[-0.673,-2.562,-0.749,-2.646],[-0.678,-2.577,-0.744,-2.621],[-0.688,-2.597,-0.749,-2.651],[-0.698,-2.621,-0.744,-2.661],[-0.708,-2.661,-0.739,-2.676],[-0.688,-2.558,-0.739,-2.558],[-0.683,-2.577,-0.749,-2.607],[-0.733,-2.72,-0.685,-2.74],[-0.739,-2.754,-0.688,-2.74],[-0.754,-2.789,-0.718,-2.823],[-0.656,-2.705,-0.774,-2.995],[-0.65,-2.754,-0.794,-3.025],[-0.64,-2.784,-0.632,-2.956],[-0.663,-2.892,-0.754,-2.912],[-0.759,-2.848,-0.663,-2.976],[-0.769,-2.912,-0.708,-2.981],[-0.764,-2.961,-0.663,-2.976],[-0.779,-2.971,-0.663,-2.971],[-0.794,-3.025,-0.708,-2.985],[-0.799,-3.124,-0.652,-3.187],[-0.794,-3.139,-0.663,-3.227],[-0.815,-3.235,-0.642,-3.284],[-0.845,-3.345,-0.627,-3.379],
[-0.77,-3.0,-0.69,-2.85],[-0.78,-3.02,-0.7,-2.9],[-0.76,-2.98,-0.66,-2.85],[-0.75,-2.93,-0.68,-2.95],[-0.72,-2.87,-0.75,-2.95],
[-1.265,-3.118,-1.235,-3.07],[-1.255,-3.116,-1.215,-3.064],[-1.265,-3.118,-0.972,-3.059],[-1.245,-3.123,-1.002,-3.064],[-1.225,-3.123,-1.043,-3.069],[-1.195,-3.123,-0.931,-3.069],[-1.154,-3.12,-0.871,-3.059],[-1.103,-3.116,-0.81,-3.035],[-1.103,-3.114,-1.053,-3.069],[-1.174,-3.118,-1.144,-3.064],[-1.195,-3.12,-1.174,-3.074],[-1.225,-3.067,-1.053,-3.099],[-1.053,-3.107,-0.739,-3.04],[-1.002,-3.101,-0.789,-3.03],[-0.951,-3.099,-0.729,-3.04],[-0.89,-3.097,-0.668,-3.045],[-0.84,-3.094,-0.607,-3.05],[-0.997,-3.059,-0.779,-3.089],[-0.931,-3.099,-0.566,-3.05],[-0.789,-3.099,-0.516,-3.04],[-0.759,-3.099,-0.455,-3.025],[-0.698,-3.107,-0.415,-3.035],[-0.668,-3.107,-0.364,-3.025],[-0.617,-3.107,-0.344,-3.015],[-0.566,-3.114,-0.295,-3.013],
[-1.26,-3.118,-0.95,-3.06],[-1.24,-3.12,-0.9,-3.055],[-1.22,-3.12,-0.86,-3.05],[-1.2,-3.122,-0.83,-3.045],[-1.18,-3.122,-0.8,-3.04],[-1.16,-3.12,-0.76,-3.03],[-1.14,-3.118,-0.78,-3.05],[-1.12,-3.115,-0.85,-3.07],[-1.08,-3.112,-0.8,-3.06],[-1.05,-3.105,-0.76,-3.05],[-1.0,-3.1,-0.75,-3.06],[-0.95,-3.095,-0.7,-3.06],[-1.25,-3.11,-1.0,-3.07],[-1.2,-3.11,-0.9,-3.08],[-1.15,-3.1,-0.85,-3.075],[-1.1,-3.1,-0.8,-3.07],[-0.85,-3.095,-0.55,-3.06],[-0.8,-3.1,-0.5,-3.05],[-0.72,-3.1,-0.45,-3.05],[-0.68,-3.1,-0.4,-3.045],[-0.62,-3.1,-0.38,-3.035],[-0.58,-3.105,-0.33,-3.03],[-0.55,-3.11,-0.31,-3.02],[-0.5,-3.11,-0.32,-3.03],
[-0.329,-3.096,-0.506,-3.02],[-0.334,-3.094,-0.466,-3.02],[-0.364,-3.099,-0.452,-3.018],[-0.385,-3.104,-0.516,-3.025],[-0.405,-3.104,-0.415,-3.025],[-0.425,-3.104,-0.385,-3.022],[-0.466,-3.114,-0.364,-3.022],[-0.506,-3.118,-0.405,-3.03],[-0.536,-3.118,-0.344,-3.015],[-0.385,-3.099,-0.476,-3.025],[-0.445,-3.109,-0.496,-3.025]
];
const xyzDiffWith = [
[-0.66,-2.533,-0.746,-2.536],[-0.665,-2.54,-0.705,-2.521],[-0.67,-2.557,-0.746,-2.582],[-0.68,-2.572,-0.71,-2.567],[-0.69,-2.597,-0.751,-2.621],[-0.71,-2.647,-0.693,-2.651],[-0.72,-2.695,-0.7,-2.658],[-0.736,-2.73,-0.695,-2.705],[-0.65,-2.7,-0.7,-2.752],[-0.636,-2.784,-0.659,-2.799],[-0.634,-2.789,-0.634,-2.858],[-0.7,-2.754,-0.7,-2.872],[-0.746,-2.784,-0.695,-2.744],[-0.751,-2.804,-0.72,-2.774],[-0.761,-2.843,-0.71,-2.922],[-0.766,-2.922,-0.655,-2.961],[-0.761,-2.912,-0.66,-2.966],[-0.776,-2.971,-0.66,-2.971],[-0.801,-3.02,-0.72,-2.971],[-0.771,-3.01,-0.665,-2.976],[-0.787,-3.055,-0.691,-3.053],[-0.791,-3.109,-0.741,-3.01],[-0.832,-3.139,-0.736,-3.05],[-0.827,-3.173,-0.761,-3.06],[-0.822,-3.237,-0.837,-3.237],[-0.817,-3.247,-0.735,-3.07],[-0.847,-3.348,-0.791,-3.319],[-0.791,-3.319,-0.741,-3.099],[-0.822,-3.345,-0.817,-3.25],
[-0.74,-3.0,-0.77,-2.91],[-0.72,-2.97,-0.76,-2.9],[-0.73,-3.05,-0.8,-3.02],[-0.76,-2.95,-0.66,-2.97],[-0.74,-2.72,-0.7,-2.62],[-0.71,-2.55,-0.7,-2.68],[-0.72,-2.6,-0.71,-2.72],
[-1.265,-3.117,-1.207,-3.053],[-1.257,-3.119,-1.227,-3.07],[-1.247,-3.119,-1.166,-3.06],[-1.257,-3.117,-1.126,-3.064],[-1.227,-3.117,-1.106,-3.059],[-1.207,-3.119,-1.075,-3.055],[-1.181,-3.119,-1.085,-3.06],[-1.136,-3.119,-1.07,-3.055],[-1.115,-3.114,-1.055,-3.06],[-1.065,-3.112,-1.075,-3.055],[-1.045,-3.104,-1.055,-3.064],[-1.024,-3.101,-0.953,-3.052],[-0.994,-3.096,-1.024,-3.064],[-0.964,-3.096,-0.928,-3.047],[-0.923,-3.096,-0.974,-3.064],[-0.903,-3.096,-0.888,-3.06],[-0.863,-3.089,-0.913,-3.064],[-0.822,-3.092,-0.881,-3.057],[-0.791,-3.092,-0.842,-3.047],
[-1.26,-3.115,-1.14,-3.06],[-1.25,-3.118,-1.1,-3.06],[-1.24,-3.12,-1.09,-3.06],[-1.23,-3.12,-1.12,-3.065],[-1.22,-3.118,-1.1,-3.065],[-1.2,-3.12,-1.07,-3.06],[-1.19,-3.12,-1.085,-3.07],[-1.16,-3.12,-1.06,-3.065],[-1.15,-3.12,-1.09,-3.06],[-1.03,-3.1,-0.98,-3.065],[-1.01,-3.1,-0.97,-3.062],[-0.98,-3.095,-1.0,-3.065],[-0.95,-3.095,-0.98,-3.06],[-0.93,-3.095,-0.9,-3.06],[-0.88,-3.09,-0.86,-3.05],[-0.85,-3.09,-0.87,-3.06],
[-0.7,-3.104,-0.66,-3.059],[-0.64,-3.107,-0.569,-3.07],[-0.66,-3.059,-0.574,-3.099],[-0.599,-3.107,-0.528,-3.055],[-0.569,-3.109,-0.508,-3.055],[-0.549,-3.114,-0.488,-3.06],[-0.518,-3.109,-0.468,-3.07],[-0.488,-3.114,-0.432,-3.055],[-0.458,-3.104,-0.447,-3.06],[-0.411,-3.109,-0.335,-3.084],[-0.386,-3.084,-0.33,-3.094],[-0.371,-3.06,-0.33,-3.094],[-0.325,-3.06,-0.376,-3.094],[-0.29,-3.097,-0.416,-3.099],
[-0.56,-3.11,-0.5,-3.06],[-0.53,-3.11,-0.47,-3.06],[-0.51,-3.115,-0.45,-3.06],[-0.47,-3.105,-0.44,-3.06],[-0.45,-3.1,-0.47,-3.06],[-0.43,-3.1,-0.41,-3.07]
];

// Figure geometry and SVG helpers
const PLOT_W = 1338;
const PLOT_H = 838;
const NS = 'http://www.w3.org/2000/svg';

function svgEl(tag, parent) {
  const el = document.createElementNS(NS, tag);
  parent.appendChild(el);
  return el;
}
function xScale(v, lim) { return (v - lim[0]) / (lim[1] - lim[0]) * PLOT_W; }
function yScale(v, lim) { return PLOT_H - (v - lim[0]) / (lim[1] - lim[0]) * PLOT_H; }

function drawAxes(g, xLim, yLim, xTicks, yTicks) {
  const axis = svgEl('path', g);
  
  
  let d = 'M0,0 V' + PLOT_H + ' H' + PLOT_W;
  xTicks.forEach(function (t) {
    const px = xScale(t, xLim);
    d += ' M' + px + ',' + PLOT_H + ' v-14';
  });
  yTicks.forEach(function (t) {
    const py = yScale(t, yLim);
    d += ' M0,' + py + ' h14';
  });
  axis.setAttribute('d', d);
  axis.setAttribute('fill', 'none');
  axis.setAttribute('stroke', '#262626');
  axis.setAttribute('stroke-width', '2.6');

  xTicks.forEach(function (t) {
    const lab = svgEl('text', g);
    
    
    lab.setAttribute('class', 'tick');
    lab.setAttribute('x', xScale(t, xLim));
    lab.setAttribute('y', PLOT_H + 69);
    lab.setAttribute('text-anchor', 'middle');
    lab.textContent = String(t);
  });
  yTicks.forEach(function (t) {
    const lab = svgEl('text', g);
    
    
    lab.setAttribute('class', 'tick');
    lab.setAttribute('x', -19);
    lab.setAttribute('y', yScale(t, yLim) + 18);
    lab.setAttribute('text-anchor', 'end');
    lab.textContent = String(t);
  });
}

function segmentPath(seg, xLim, yLim) {
  let d = '';
  for (let i = 0; i < seg.length; i += 2) {
    d += (i === 0 ? 'M' : 'L') + xScale(seg[i], xLim).toFixed(1) + ',' + yScale(seg[i + 1], yLim).toFixed(1);
  }
  return d;
}

// Smooth curve through the data points; sharp corners stay sharp.
function smoothPath(seg, xLim, yLim) {
  const pts = [];
  for (let i = 0; i < seg.length; i += 2) {
    pts.push([xScale(seg[i], xLim), yScale(seg[i + 1], yLim)]);
  }
  const tangents = pts.map(function (p, i) {
    if (i === 0 || i === pts.length - 1) return [0, 0];
    const a = [p[0] - pts[i - 1][0], p[1] - pts[i - 1][1]];
    const b = [pts[i + 1][0] - p[0], pts[i + 1][1] - p[1]];
    const la = Math.hypot(a[0], a[1]) || 1;
    const lb = Math.hypot(b[0], b[1]) || 1;
    const cos = (a[0] * b[0] + a[1] * b[1]) / (la * lb);
    if (cos < 0.1) return [0, 0];
    const tx = a[0] / la + b[0] / lb;
    const ty = a[1] / la + b[1] / lb;
    const lt = Math.hypot(tx, ty) || 1;
    return [tx / lt, ty / lt];
  });
  let d = 'M' + pts[0][0].toFixed(1) + ',' + pts[0][1].toFixed(1);
  for (let i = 1; i < pts.length; i++) {
    const p0 = pts[i - 1];
    const p1 = pts[i];
    const len = Math.hypot(p1[0] - p0[0], p1[1] - p0[1]) / 3;
    d += 'C' + (p0[0] + tangents[i - 1][0] * len).toFixed(1) + ',' + (p0[1] + tangents[i - 1][1] * len).toFixed(1) +
         ' ' + (p1[0] - tangents[i][0] * len).toFixed(1) + ',' + (p1[1] - tangents[i][1] * len).toFixed(1) +
         ' ' + p1[0].toFixed(1) + ',' + p1[1].toFixed(1);
  }
  return d;
}

function drawGround(g, segs, xLim, yLim, color) {
  segs.forEach(function (seg) {
    const p = svgEl('path', g);
    
    
    p.setAttribute('d', smoothPath(seg, xLim, yLim));
    p.setAttribute('fill', 'none');
    p.setAttribute('stroke', color);
    p.setAttribute('stroke-width', '7');
    p.setAttribute('stroke-linejoin', 'round');
    p.setAttribute('stroke-linecap', 'round');
  });
}
function drawEstimated(g, segs, xLim, yLim) {
  segs.forEach(function (seg) {
    const p = svgEl('path', g);
    
    
    p.setAttribute('d', segmentPath(seg, xLim, yLim));
    p.setAttribute('fill', 'none');
    p.setAttribute('stroke', '#FF0000');
    p.setAttribute('stroke-width', '6.5');
    p.setAttribute('stroke-linejoin', 'round');
    p.setAttribute('stroke-linecap', 'round');
  });
}
function drawDifference(g, segs, xLim, yLim) {
  segs.forEach(function (seg) {
    const l = svgEl('line', g);
    
    
    l.setAttribute('x1', xScale(seg[0], xLim).toFixed(1));
    l.setAttribute('y1', yScale(seg[1], yLim).toFixed(1));
    l.setAttribute('x2', xScale(seg[2], xLim).toFixed(1));
    l.setAttribute('y2', yScale(seg[3], yLim).toFixed(1));
    l.setAttribute('stroke', '#00FF00');
    l.setAttribute('stroke-width', '4.8');
    l.setAttribute('stroke-linecap', 'round');
  });
}

function drawPanel(id, xLim, yLim, xTicks, yTicks, gt, est, diff, gtColor) {
  const g = document.getElementById(id);
  drawAxes(g, xLim, yLim, xTicks, yTicks);
  drawGround(g, gt, xLim, yLim, gtColor);
  drawEstimated(g, est, xLim, yLim);
  drawDifference(g, diff, xLim, yLim);
}

drawPanel('p1', halfXLim, halfYLim, halfXTicks, halfYTicks, halfGt, halfEstWithout, halfDiffWithout, '#0072BD');
drawPanel('p2', halfXLim, halfYLim, halfXTicks, halfYTicks, halfGt, halfEstWith, halfDiffWith, '#0072BD');
drawPanel('p3', rpyXLim, rpyWithoutYLim, rpyXTicks, rpyWithoutYTicks, rpyGt, rpyEstWithout, rpyDiffWithout, '#0000FF');
drawPanel('p4', rpyXLim, rpyWithYLim, rpyXTicks, rpyWithYTicks, rpyGt, rpyEstWith, rpyDiffWith, '#0000FF');
drawPanel('p5', xyzXLim, xyzYLim, xyzXTicks, xyzYTicks, xyzGt, xyzEstWithout, xyzDiffWithout, '#0000FF');
drawPanel('p6', xyzXLim, xyzYLim, xyzXTicks, xyzYTicks, xyzGt, xyzEstWith, xyzDiffWith, '#0000FF');
</script>
</body>
</html>
